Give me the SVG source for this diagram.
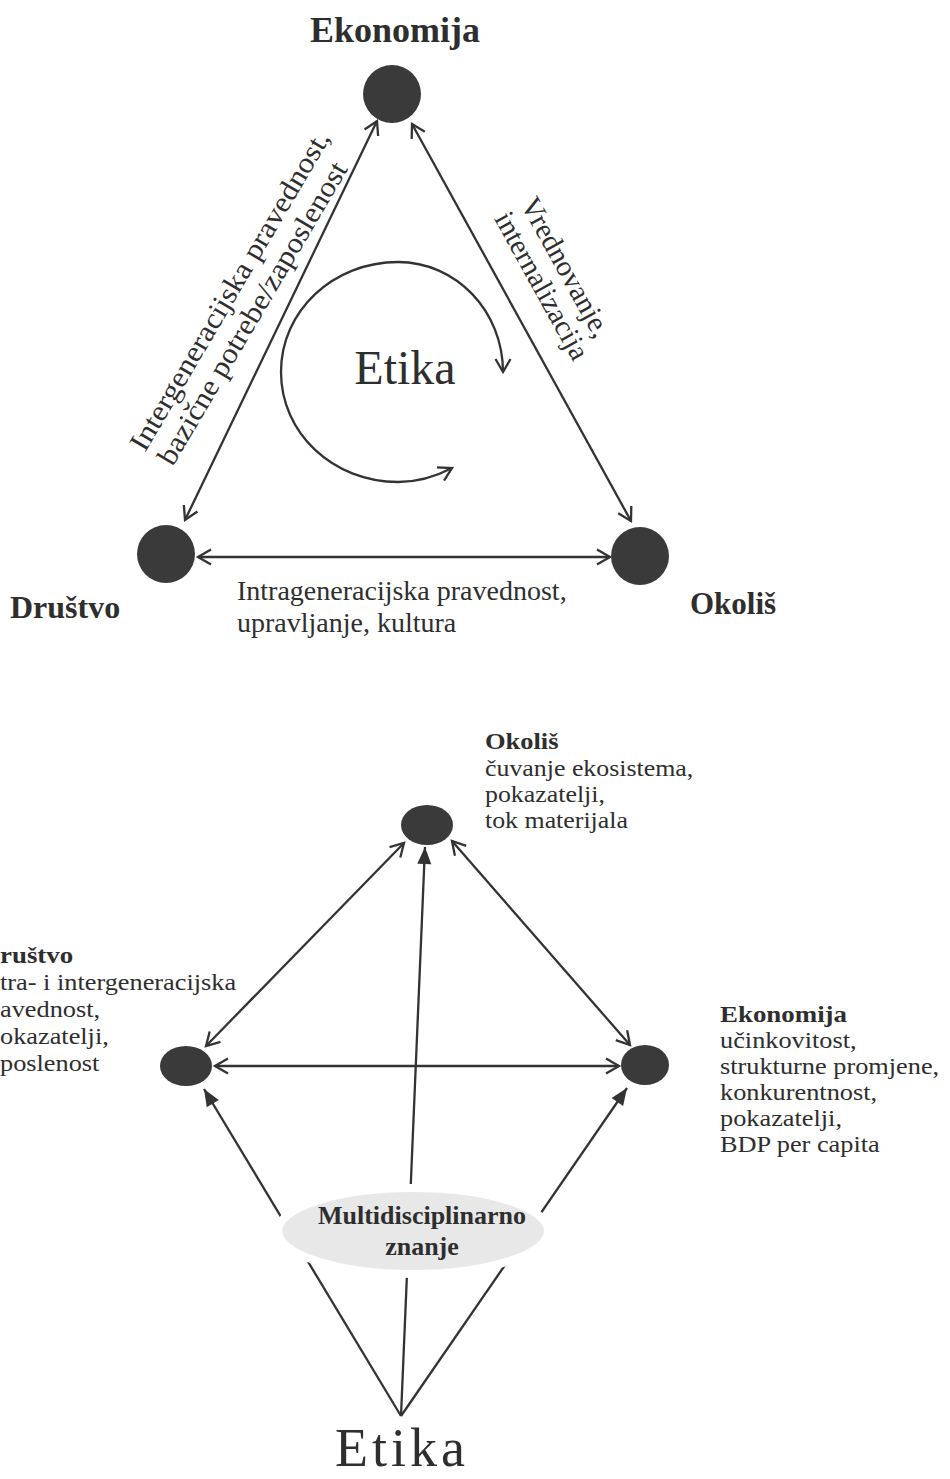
<svg xmlns="http://www.w3.org/2000/svg" width="950" height="1479" viewBox="0 0 950 1479">
<style>
.t{font-family:"Liberation Serif","Times New Roman",serif;fill:#2e2e2e}
.b{font-weight:bold}
.ln{stroke:#333;stroke-width:2.3;fill:none}
.dot{fill:#3a3a3a}
.body{font-size:22.5px}
</style>
<defs>
<marker id="chev" viewBox="-16 -10 20 20" refX="0" refY="0" markerWidth="20" markerHeight="20" markerUnits="userSpaceOnUse" orient="auto-start-reverse" overflow="visible">
<path d="M-13,-7.5 L0,0 L-13,7.5" fill="none" stroke="#333" stroke-width="2.3"/>
</marker>
<marker id="tri" viewBox="-18 -10 20 20" refX="0" refY="0" markerWidth="20" markerHeight="20" markerUnits="userSpaceOnUse" orient="auto" overflow="visible">
<path d="M-17,-7 L0,0 L-17,7 Z" fill="#333"/>
</marker>
</defs>
<rect width="950" height="1479" fill="#fff"/>

<g id="connectors">
<line class="ln" x1="185" y1="520" x2="377" y2="121" marker-start="url(#chev)" marker-end="url(#chev)"/>
<line class="ln" x1="412" y1="124" x2="631" y2="521" marker-start="url(#chev)" marker-end="url(#chev)"/>
<line class="ln" x1="198" y1="557" x2="610" y2="557" marker-start="url(#chev)" marker-end="url(#chev)"/>
<path class="ln" d="M452,468 C435,477 417,482 398,482 C333,482 281,433 281,372 C281,311 333,262 398,262 C456,262 503,311 503,372" marker-start="url(#chev)" marker-end="url(#chev)"/>
<line class="ln" x1="206" y1="1046" x2="404" y2="843" marker-start="url(#chev)" marker-end="url(#chev)"/>
<line class="ln" x1="452" y1="841" x2="630" y2="1045" marker-start="url(#chev)" marker-end="url(#chev)"/>
<line class="ln" x1="215" y1="1066" x2="619" y2="1066" marker-start="url(#chev)" marker-end="url(#chev)"/>
<line class="ln" x1="401" y1="1416" x2="425" y2="847" marker-end="url(#tri)"/>
<line class="ln" x1="401" y1="1416" x2="204" y2="1089" marker-end="url(#tri)"/>
<line class="ln" x1="401" y1="1416" x2="627" y2="1088" marker-end="url(#tri)"/>
</g>

<g id="top-ekonomija">
<circle class="dot" cx="392" cy="94" r="29"/>
<text class="t b" x="395" y="42" font-size="36" text-anchor="middle">Ekonomija</text>
</g>
<g id="top-drustvo">
<circle class="dot" cx="166" cy="554" r="29"/>
<text class="t b" x="10" y="618" font-size="32">Društvo</text>
</g>
<g id="top-okolis">
<circle class="dot" cx="640" cy="556" r="29"/>
<text class="t b" x="690" y="614" font-size="31">Okoliš</text>
</g>
<g id="top-etika">
<text class="t" x="405" y="384" font-size="48" text-anchor="middle">Etika</text>
</g>
<g id="label-left">
<g transform="translate(145,453) rotate(-59.5)">
<text class="t" x="0" y="0" font-size="29" textLength="366" lengthAdjust="spacingAndGlyphs">Intergeneracijska pravednost,</text>
<text class="t" x="2" y="31" font-size="29" textLength="346" lengthAdjust="spacingAndGlyphs">bazične potrebe/zaposlenost</text>
</g>
</g>
<g id="label-right">
<g transform="translate(520,204) rotate(61)">
<text class="t" x="0" y="0" font-size="29">Vrednovanje,</text>
<text class="t" x="0" y="30" font-size="29">internalizacija</text>
</g>
</g>
<g id="label-bottom">
<text class="t" x="237" y="600" font-size="28">Intrageneracijska pravednost,</text>
<text class="t" x="237" y="632" font-size="28">upravljanje, kultura</text>
</g>

<g id="bottom-okolis">
<ellipse class="dot" cx="427" cy="825" rx="26" ry="20"/>
<g transform="translate(485,0) scale(1.15,1)">
<text class="t b" x="0" y="749" font-size="23">Okoliš</text>
<text class="t body"><tspan x="0" y="776">čuvanje ekosistema,</tspan><tspan x="0" y="802">pokazatelji,</tspan><tspan x="0" y="828">tok materijala</tspan></text>
</g>
</g>
<g id="bottom-drustvo">
<ellipse class="dot" cx="186" cy="1066" rx="26" ry="20"/>
<g transform="scale(1.17,1)">
<text class="t b" x="0" y="963" font-size="23">ruštvo</text>
<text class="t body"><tspan x="0" y="990">tra- i intergeneracijska</tspan><tspan x="0" y="1017">avednost,</tspan><tspan x="0" y="1044">okazatelji,</tspan><tspan x="0" y="1071">poslenost</tspan></text>
</g>
</g>
<g id="bottom-ekonomija">
<ellipse class="dot" cx="645" cy="1065" rx="24" ry="20"/>
<g transform="translate(720,0) scale(1.17,1)">
<text class="t b" x="0" y="1022" font-size="23">Ekonomija</text>
<text class="t body"><tspan x="0" y="1048">učinkovitost,</tspan><tspan x="0" y="1074">strukturne promjene,</tspan><tspan x="0" y="1100">konkurentnost,</tspan><tspan x="0" y="1126">pokazatelji,</tspan><tspan x="0" y="1152">BDP per capita</tspan></text>
</g>
</g>
<g id="multidisciplinarno">
<ellipse cx="413" cy="1231" rx="135" ry="43" fill="#e8e8e8" stroke="#fff" stroke-width="8"/>
<text class="t b" x="422" y="1224" font-size="26" text-anchor="middle">Multidisciplinarno</text>
<text class="t b" x="422" y="1255" font-size="26" text-anchor="middle">znanje</text>
</g>
<g id="bottom-etika">
<text class="t" x="402" y="1466" font-size="54" text-anchor="middle" letter-spacing="4">Etika</text>
</g>
</svg>
